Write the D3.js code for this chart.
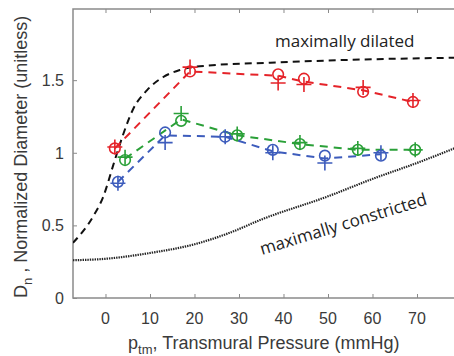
<!DOCTYPE html>
<html>
<head>
<meta charset="utf-8">
<script src="https://cdn.jsdelivr.net/npm/d3@7"></script>
<style>
  body { margin: 0; background: #fff; }
  svg { display: block; }
</style>
</head>
<body>
<script>
// data
const xTicks = [0, 10, 20, 30, 40, 50, 60, 70];
const yTicks = [0, 0.5, 1, 1.5];

// reference curves
const dilatedP = [-7.3, -2.8, -0.6, 2.1, 3.9, 6.2, 9.3, 12.9, 16.7, 22.8, 37, 55, 80];
const dilatedD = [0.38, 0.56, 0.69, 0.95, 1.12, 1.30, 1.43, 1.52, 1.57, 1.60, 1.62, 1.64, 1.655];
const constrictedP = [-7.3, 0, 10, 20, 28, 35, 50, 60, 70, 80];
const constrictedD = [0.26, 0.27, 0.31, 0.37, 0.45, 0.54, 0.70, 0.82, 0.93, 1.05];

// measured series (circle and plus markers, dashed line)
const redP = [2.1, 19, 38.8, 44.6, 57.9, 69.1];
const redCircle = [1.03, 1.56, 1.54, 1.51, 1.42, 1.35];
const redPlus = [1.04, 1.59, 1.48, 1.47, 1.45, 1.36];
const redLine = [1.03, 1.56, 1.53, 1.49, 1.43, 1.35];

const greenP = [4.4, 17, 29.6, 43.7, 56.7, 69.6];
const greenCircle = [0.95, 1.22, 1.12, 1.06, 1.02, 1.02];
const greenPlus = [0.97, 1.27, 1.13, 1.07, 1.03, 1.02];
const greenLine = [0.96, 1.23, 1.12, 1.06, 1.02, 1.02];

const blueP = [2.8, 13.4, 26.9, 37.6, 49.3, 61.9];
const blueCircle = [0.80, 1.14, 1.11, 1.02, 0.98, 0.98];
const bluePlus = [0.79, 1.07, 1.11, 1.00, 0.93, 1.00];
const blueLine = [0.80, 1.12, 1.11, 1.01, 0.96, 0.99];

const W = 454, H = 356;
const mLeft = 73, mTop = 9, mBottom = 298;

var svg = d3.select("body")
        .append("svg")
        .attr("width", W)
        .attr("height", H)

const x = d3.scaleLinear().domain([-7.3, 80]).range([mLeft, mLeft + 87.3 * 4.45]);
const y = d3.scaleLinear().domain([0, 1.99]).range([mBottom, mTop]);

const axisColor = "#8a8a8a";
const textColor = "#3a3a3a";
const sans = "Liberation Sans, Arial, sans-serif";

// frame (top + left + bottom, right edge is out of view)
svg.append("path")
        .attr("d", `M${x.range()[1]},${mTop}H${mLeft}V${mBottom}H${x.range()[1]}`)
        .attr("fill", "none")
        .attr("stroke", axisColor)
        .attr("stroke-width", 1.5)

// axes with inward ticks
const xAxis = svg.append("g")
        .attr("transform", `translate(0,${mBottom})`)
        .call(d3.axisTop(x).tickValues(xTicks).tickSize(4).tickFormat(""))
xAxis.select(".domain").remove()
xAxis.selectAll("line").attr("stroke", axisColor)

const xTop = svg.append("g")
        .attr("transform", `translate(0,${mTop})`)
        .call(d3.axisBottom(x).tickValues(xTicks).tickSize(4).tickFormat(""))
xTop.select(".domain").remove()
xTop.selectAll("line").attr("stroke", axisColor)

const yAxis = svg.append("g")
        .attr("transform", `translate(${mLeft},0)`)
        .call(d3.axisRight(y).tickValues(yTicks).tickSize(4).tickFormat(""))
yAxis.select(".domain").remove()
yAxis.selectAll("line").attr("stroke", axisColor)

// tick labels
svg.append("g").selectAll("text")
        .data(xTicks)
        .enter()
        .append("text")
                .attr("x", d => x(d))
                .attr("y", 324)
                .attr("text-anchor", "middle")
                .attr("font-family", sans)
                .attr("font-size", 16)
                .attr("fill", textColor)
                .text(d => d)

svg.append("g").selectAll("text")
        .data(yTicks)
        .enter()
        .append("text")
                .attr("x", 64)
                .attr("y", d => y(d) + 6)
                .attr("text-anchor", "end")
                .attr("font-family", sans)
                .attr("font-size", 16)
                .attr("fill", textColor)
                .text(d => d)

// axis titles
const xTitle = svg.append("text")
        .attr("x", 128)
        .attr("y", 349)
        .attr("font-family", sans)
        .attr("font-size", 18)
        .attr("fill", textColor)
xTitle.append("tspan").text("p")
xTitle.append("tspan").attr("font-size", 13).attr("dy", 5).text("tm")
xTitle.append("tspan").attr("dy", -5).text(", Transmural Pressure (mmHg)")

const yTitle = svg.append("text")
        .attr("transform", "translate(27,298) rotate(-90)")
        .attr("font-family", sans)
        .attr("font-size", 18)
        .attr("fill", textColor)
yTitle.append("tspan").text("D")
yTitle.append("tspan").attr("font-size", 13).attr("dy", 5).text("n")
yTitle.append("tspan").attr("dy", -5).text(" , Normalized Diameter (unitless)")

// plot clip
svg.append("clipPath").attr("id", "plot")
        .append("rect")
        .attr("x", mLeft).attr("y", mTop)
        .attr("width", W - mLeft).attr("height", mBottom - mTop)

const plot = svg.append("g").attr("clip-path", "url(#plot)")

const line = d3.line()
        .x(d => x(d[0]))
        .y(d => y(d[1]))

const smooth = d3.line()
        .x(d => x(d[0]))
        .y(d => y(d[1]))
        .curve(d3.curveMonotoneX)

// maximally dilated
plot.append("path")
        .attr("d", smooth(d3.zip(dilatedP, dilatedD)))
        .attr("fill", "none")
        .attr("stroke", "#111")
        .attr("stroke-width", 2)
        .attr("stroke-dasharray", "7,5")

// maximally constricted
plot.append("path")
        .attr("d", smooth(d3.zip(constrictedP, constrictedD)))
        .attr("fill", "none")
        .attr("stroke", "#222")
        .attr("stroke-width", 2.2)
        .attr("stroke-dasharray", "1.4,1")

const series = [
        { color: "#e52329", p: redP, circle: redCircle, plus: redPlus, line: redLine },
        { color: "#2aa038", p: greenP, circle: greenCircle, plus: greenPlus, line: greenLine },
        { color: "#3d5cbc", p: blueP, circle: blueCircle, plus: bluePlus, line: blueLine }
]

series.forEach(s => {
        const g = plot.append("g")
        g.append("path")
                .attr("d", line(d3.zip(s.p, s.line)))
                .attr("fill", "none")
                .attr("stroke", s.color)
                .attr("stroke-width", 2)
                .attr("stroke-dasharray", "8,6")

        g.selectAll("circle")
                .data(d3.zip(s.p, s.circle))
                .enter()
                .append("circle")
                        .attr("cx", d => x(d[0]))
                        .attr("cy", d => y(d[1]))
                        .attr("r", 5.3)
                        .attr("fill", "none")
                        .attr("stroke", s.color)
                        .attr("stroke-width", 1.6)

        g.selectAll("path.plus")
                .data(d3.zip(s.p, s.plus))
                .enter()
                .append("path")
                        .attr("class", "plus")
                        .attr("d", d => {
                                const cx = x(d[0]), cy = y(d[1]);
                                return `M${cx - 7.5},${cy}H${cx + 7.5}M${cx},${cy - 7.5}V${cy + 7.5}`
                        })
                        .attr("stroke", s.color)
                        .attr("stroke-width", 1.6)
})

// annotations
svg.append("text")
        .attr("x", 275)
        .attr("y", 47)
        .attr("font-family", "Open Sans, sans-serif")
        .attr("font-size", 17)
        .attr("fill", "#222")
        .text("maximally dilated")

svg.append("text")
        .attr("transform", "translate(262,255) rotate(-17)")
        .attr("font-family", "Open Sans, sans-serif")
        .attr("font-size", 17)
        .attr("fill", "#222")
        .text("maximally constricted")
</script>
</body>
</html>
